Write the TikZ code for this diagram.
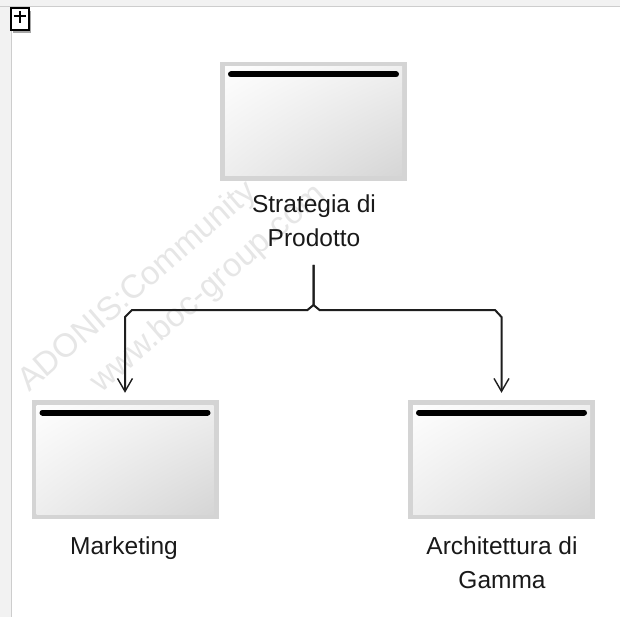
\documentclass[tikz,border=0pt]{standalone}
\usepackage{fontspec}
\setmainfont{Liberation Sans}
\usetikzlibrary{arrows.meta,calc,shadings}
\definecolor{rim}{RGB}{212,212,212}
\definecolor{wire}{RGB}{30,30,30}
\definecolor{wmark}{RGB}{230,230,230}
\definecolor{chrome}{RGB}{242,242,242}
\definecolor{chromeline}{RGB}{205,205,205}
\tikzset{
  unitbox/.style={minimum width=187pt, minimum height=119pt, inner sep=0pt,
    fill=rim, path picture={
      \shade[upper left=white, upper right=black!6, lower left=black!7, lower right=black!17]
        ($(path picture bounding box.north west)+(5pt,-5pt)$) rectangle
        ($(path picture bounding box.south east)+(-5pt,5pt)$);
      \draw[line width=6pt, line cap=round, black]
        ($(path picture bounding box.north west)+(11pt,-12.5pt)$) --
        ($(path picture bounding box.north east)+(-11pt,-12.5pt)$);
    }},
  caption/.style={anchor=north, inner sep=0pt, align=center,
    font=\fontsize{24.5pt}{34pt}\selectfont, text=black!90},
  conn/.style={draw=wire, line width=2pt,
    -{Straight Barb[length=13pt, width=15pt, line width=1.4pt]}, shorten >=7pt},
  watermark/.style={anchor=base west, inner sep=0pt, rotate=41, text=wmark,
    font=\fontsize{33pt}{33pt}\selectfont}
}
\begin{document}
\begin{tikzpicture}[x=1pt, y=-1pt]
  \useasboundingbox (0,0) rectangle (620,617);
  \fill[white] (0,0) rectangle (620,617);

  % window chrome: top strip, left strip and the expand button
  \fill[chrome] (0,0) rectangle (620,7);
  \fill[chrome] (0,7) rectangle (11,617);
  \draw[chromeline, line width=1pt] (0,7) -- (620,7);
  \draw[chromeline, line width=1pt] (11,7) -- (11,617);
  \fill[black!35] (12.5,11) rectangle (30.5,33);
  \node[draw=black, line width=2pt, fill=white, minimum width=18pt, minimum height=22pt,
        inner sep=0pt] (expand) at (19.5,19.5) {};
  \draw[black, line width=2pt] (13.5,16.5) -- (25.5,16.5) (19.5,11) -- (19.5,23);

  % background watermark
  \node[watermark] (wm1) at (29,393) {ADONIS:Community};
  \node[watermark] (wm2) at (101,394) {www.boc-group.com};

  % units
  \node[unitbox] (strat) at (313.5,121.5) {};
  \node[unitbox] (mkt)   at (125,459.5) {};
  \node[unitbox] (arch)  at (501.5,459.5) {};

  \node[caption] (stratlbl) at (314,195) {Strategia di\\Prodotto};
  \node[caption] (mktlbl)   at (124,537) {Marketing};
  \node[caption] (archlbl)  at (502,537) {Architettura di\\Gamma};

  % hierarchy connectors with a line hop at the junction
  \coordinate (src) at (313.5,265);
  \draw[conn] (src) -- (313.5,305) -- (307.5,310) -- (132,310) -- (125,317) -- (mkt.north);
  \draw[conn] (src) -- (313.5,305) -- (319.5,310) -- (495,310) -- (501.5,317) -- (arch.north);
\end{tikzpicture}
\end{document}
